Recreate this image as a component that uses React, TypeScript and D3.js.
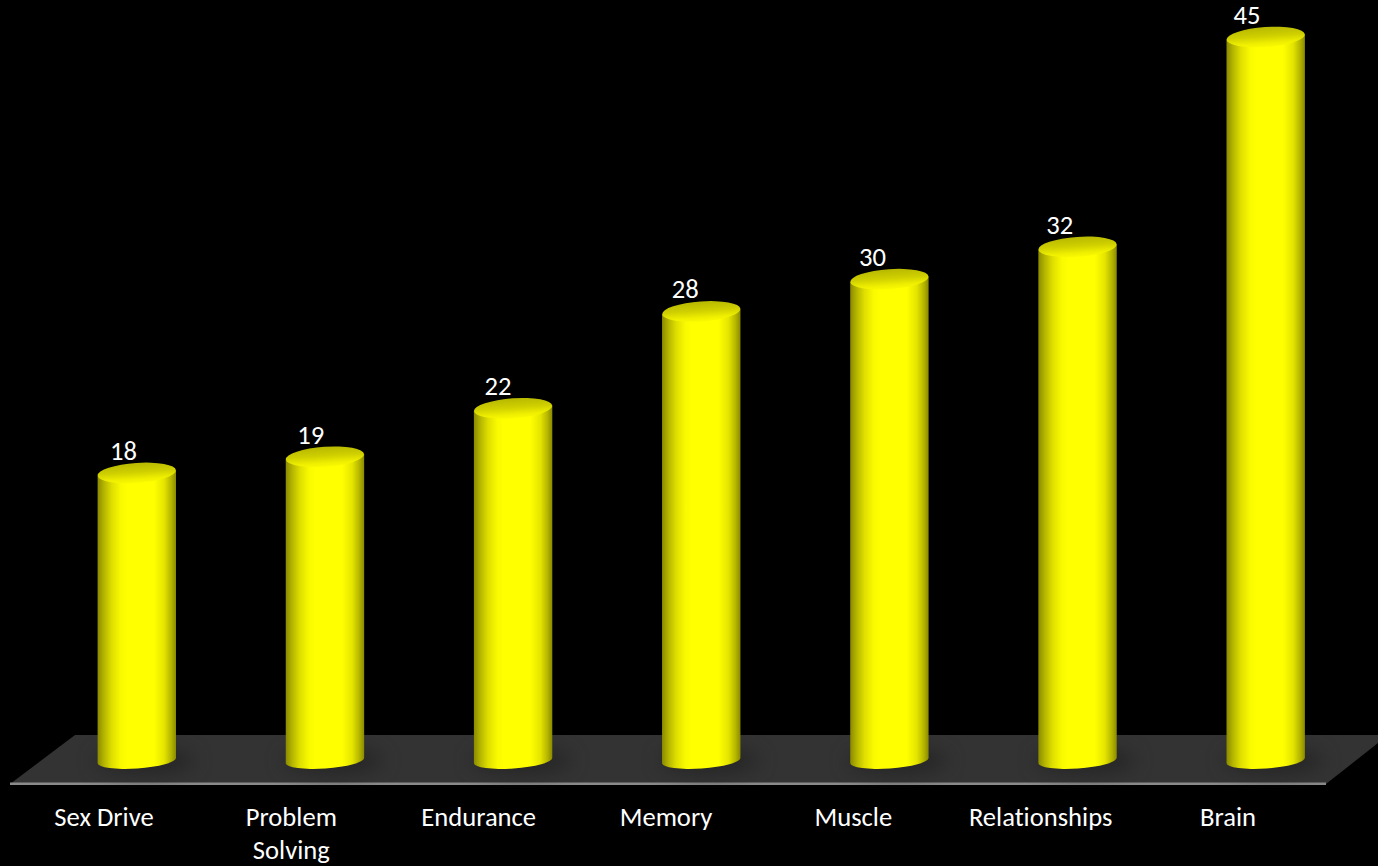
import React from "react";
import * as d3 from "d3";

const categories = ["Sex Drive", "Problem Solving", "Endurance", "Memory", "Muscle", "Relationships", "Brain"];
const values = [18, 19, 22, 28, 30, 32, 45];

const W = 1378, H = 866;
const barX = d3.scalePoint<string>().domain(categories).range([136.8, 1265.7]);
const catX = d3.scalePoint<string>().domain(categories).range([104, 1228]);
const valX = d3.scalePoint<string>().domain(categories).range([123.5, 1247]);
const y = d3.scaleLinear().domain([0, 45]).range([763.5, 37]);
const rx = 39.2, ry = 10, botRy = 8, tilt = -4;
const fontFamily = "Carlito, Lato, 'Open Sans', sans-serif";

function wrap(s: string) {
  return s === "Problem Solving" ? ["Problem", "Solving"] : [s];
}

export default function App() {
  const tr = Math.tan((tilt * Math.PI) / 180) * rx;
  const textStyle = { fontVariantLigatures: "none" } as React.CSSProperties;
  return (
    <svg width={W} height={H} viewBox={`0 0 ${W} ${H}`} style={{ position: "fixed", left: 0, top: 0, background: "#000" }}>
      <defs>
        <linearGradient id="cyl" x1="0" x2="1" y1="0" y2="0">
          <stop offset="0" stopColor="#8a8a00" />
          <stop offset="0.08" stopColor="#b4b400" />
          <stop offset="0.18" stopColor="#dede00" />
          <stop offset="0.3" stopColor="#fafa00" />
          <stop offset="0.38" stopColor="#ffff00" />
          <stop offset="0.72" stopColor="#ffff00" />
          <stop offset="0.85" stopColor="#e4e400" />
          <stop offset="0.94" stopColor="#b4b400" />
          <stop offset="1" stopColor="#8a8a00" />
        </linearGradient>
        <linearGradient id="cap" x1="0" x2="0" y1="0" y2="1">
          <stop offset="0" stopColor="#b8b800" />
          <stop offset="0.45" stopColor="#cfcf00" />
          <stop offset="0.8" stopColor="#eeee00" />
          <stop offset="1" stopColor="#fafa00" />
        </linearGradient>
        <filter id="blur" x="-60%" y="-150%" width="220%" height="400%" colorInterpolationFilters="sRGB">
          <feGaussianBlur stdDeviation="9" />
        </filter>
      </defs>
      <polygon points="75,735 1378,735 1378,743 1326,784 10,784" fill="#333333" />
      <rect x={10} y={782.5} width={1316} height={2.5} fill="#8a8a8a" />
      {categories.map((c, i) => {
        const cx = barX(c)!;
        const top = y(values[i]);
        const bot = y(0) - 3;
        const d = `M${cx - rx},${top - tr} L${cx + rx},${top + tr} L${cx + rx},${bot + tr} A${rx},${botRy} ${tilt} 0 1 ${cx - rx},${bot - tr} Z`;
        return (
          <g key={c}>
            <ellipse cx={cx + 8} cy={bot} rx={rx + 10} ry={ry + 3} fill="#262626" filter="url(#blur)" />
            <path d={d} fill="url(#cyl)" />
            <ellipse cx={cx} cy={top} rx={rx} ry={ry} transform={`rotate(${tilt} ${cx} ${top})`} fill="url(#cap)" />
          </g>
        );
      })}
      {categories.map((c, i) => (
        <text key={c} x={valX(c)!} y={y(values[i]) - 13} textAnchor="middle" fill="#fff" fontFamily={fontFamily} fontSize={26.6} style={textStyle}>
          {values[i]}
        </text>
      ))}
      {categories.map((c) =>
        wrap(c).map((t, j) => (
          <text key={t} x={catX(c)!} y={826 + j * 33} textAnchor="middle" fill="#fff" fontFamily={fontFamily} fontSize={26.6} style={textStyle}>
            {t}
          </text>
        ))
      )}
    </svg>
  );
}
